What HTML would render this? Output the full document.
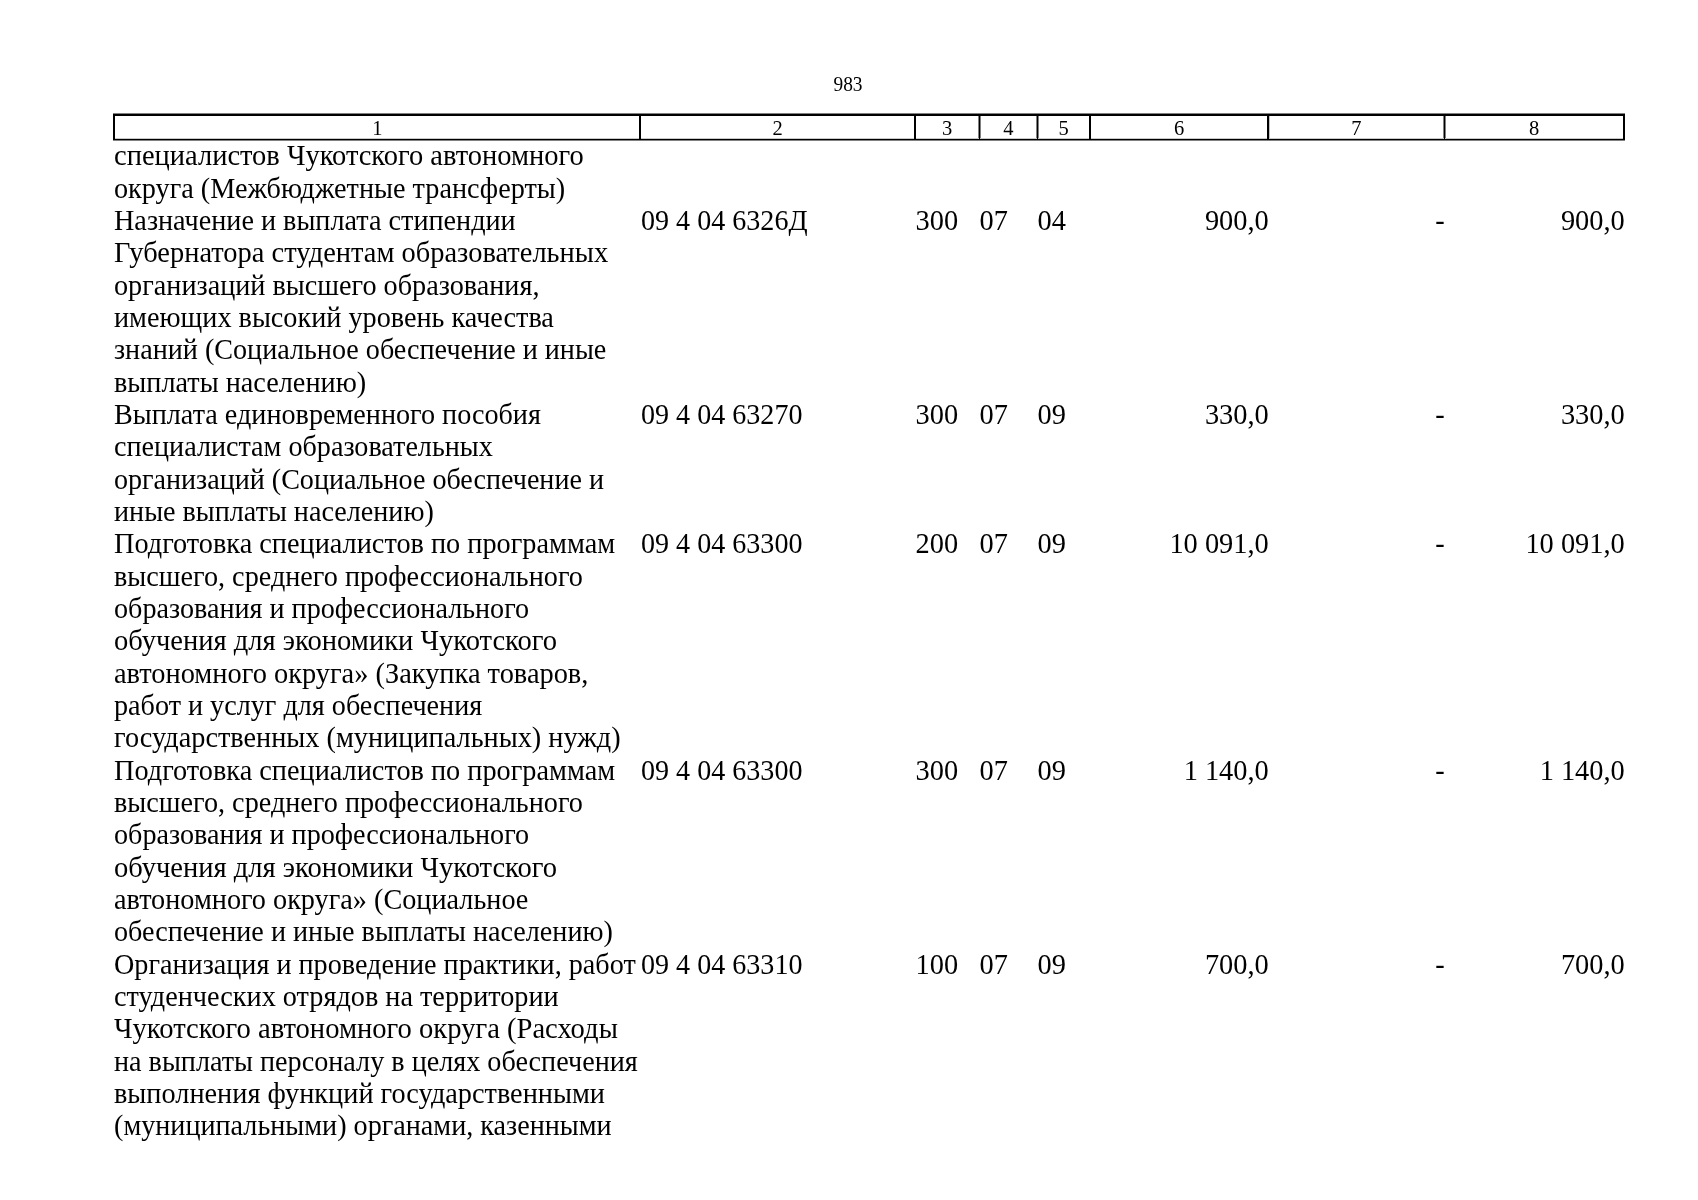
<!DOCTYPE html>
<html><head><meta charset="utf-8"><style>
html,body{margin:0;padding:0;background:#fff;}
body{width:1698px;height:1200px;position:relative;overflow:hidden;filter:grayscale(1);font-family:"Liberation Serif",serif;color:#000;}
.t{position:absolute;white-space:nowrap;line-height:0;font-size:28.4px;}
.r{text-align:right;}
.h{position:absolute;white-space:nowrap;line-height:0;font-size:20.5px;text-align:center;}
.b{position:absolute;background:#000;}
</style></head><body>

<div class="h" style="left:798.4px;width:100px;top:84.28px;transform:scaleX(0.945);transform-origin:50% 0">983</div>
<div class="b" style="left:113px;top:113px;width:1512px;height:1px;background:#808080"></div>
<div class="b" style="left:113px;top:114px;width:1512px;height:2px;background:#000"></div>
<div class="b" style="left:113px;top:138px;width:1512px;height:1px;background:#c8c8c8"></div>
<div class="b" style="left:113px;top:139px;width:1512px;height:1px;background:#000"></div>
<div class="b" style="left:113px;top:140px;width:1512px;height:1px;background:#808080"></div>
<div class="b" style="left:978px;top:116px;width:1px;height:22px;background:#808080"></div>
<div class="b" style="left:980px;top:116px;width:1px;height:22px;background:#808080"></div>
<div class="b" style="left:1036px;top:116px;width:1px;height:22px;background:#808080"></div>
<div class="b" style="left:1038px;top:116px;width:1px;height:22px;background:#808080"></div>
<div class="b" style="left:1443px;top:116px;width:1px;height:22px;background:#808080"></div>
<div class="b" style="left:1445px;top:116px;width:1px;height:22px;background:#808080"></div>
<div class="b" style="left:1269px;top:116px;width:1px;height:22px;background:#c0c0c0"></div>
<div class="b" style="left:113px;top:114px;width:2px;height:26px;background:#000"></div>
<div class="b" style="left:639px;top:114px;width:2px;height:26px;background:#000"></div>
<div class="b" style="left:914px;top:114px;width:2px;height:26px;background:#000"></div>
<div class="b" style="left:979px;top:114px;width:1px;height:26px;background:#000"></div>
<div class="b" style="left:1037px;top:114px;width:1px;height:26px;background:#000"></div>
<div class="b" style="left:1089px;top:114px;width:2px;height:26px;background:#000"></div>
<div class="b" style="left:1267px;top:114px;width:2px;height:26px;background:#000"></div>
<div class="b" style="left:1444px;top:114px;width:1px;height:26px;background:#000"></div>
<div class="b" style="left:1623px;top:114px;width:2px;height:26px;background:#000"></div>
<div class="h" style="left:114.2px;width:526.2px;top:127.83px">1</div>
<div class="h" style="left:640.4px;width:274.6px;top:127.83px">2</div>
<div class="h" style="left:915.0px;width:64.4px;top:127.83px">3</div>
<div class="h" style="left:979.4px;width:58.0px;top:127.83px">4</div>
<div class="h" style="left:1037.4px;width:52.6px;top:127.83px">5</div>
<div class="h" style="left:1090.0px;width:178.2px;top:127.83px">6</div>
<div class="h" style="left:1268.2px;width:176.2px;top:127.83px">7</div>
<div class="h" style="left:1444.4px;width:179.6px;top:127.83px">8</div>
<div class="t" style="left:114px;top:156.22px;transform:scaleX(1.0034);transform-origin:0.5px 0">специалистов Чукотского автономного</div>
<div class="t" style="left:114px;top:188.56px;transform:scaleX(0.9940);transform-origin:0.5px 0">округа (Межбюджетные трансферты)</div>
<div class="t" style="left:114px;top:220.90px;transform:scaleX(0.9933);transform-origin:0.5px 0">Назначение и выплата стипендии</div>
<div class="t" style="left:114px;top:253.24px;transform:scaleX(1.0022);transform-origin:0.5px 0">Губернатора студентам образовательных</div>
<div class="t" style="left:114px;top:285.58px;transform:scaleX(0.9937);transform-origin:0.5px 0">организаций высшего образования,</div>
<div class="t" style="left:114px;top:317.92px;transform:scaleX(0.9939);transform-origin:0.5px 0">имеющих высокий уровень качества</div>
<div class="t" style="left:114px;top:350.26px;transform:scaleX(0.9913);transform-origin:0.5px 0">знаний (Социальное обеспечение и иные</div>
<div class="t" style="left:114px;top:382.60px;transform:scaleX(0.9948);transform-origin:0.5px 0">выплаты населению)</div>
<div class="t" style="left:114px;top:414.94px;transform:scaleX(0.9925);transform-origin:0.5px 0">Выплата единовременного пособия</div>
<div class="t" style="left:114px;top:447.28px;transform:scaleX(0.9911);transform-origin:0.5px 0">специалистам образовательных</div>
<div class="t" style="left:114px;top:479.62px;transform:scaleX(0.9891);transform-origin:0.5px 0">организаций (Социальное обеспечение и</div>
<div class="t" style="left:114px;top:511.95px;transform:scaleX(0.9913);transform-origin:0.5px 0">иные выплаты населению)</div>
<div class="t" style="left:114px;top:544.30px;transform:scaleX(0.9964);transform-origin:0.5px 0">Подготовка специалистов по программам</div>
<div class="t" style="left:114px;top:576.63px;transform:scaleX(0.9936);transform-origin:0.5px 0">высшего, среднего профессионального</div>
<div class="t" style="left:114px;top:608.98px;transform:scaleX(0.9914);transform-origin:0.5px 0">образования и профессионального</div>
<div class="t" style="left:114px;top:641.32px;transform:scaleX(1.0055);transform-origin:0.5px 0">обучения для экономики Чукотского</div>
<div class="t" style="left:114px;top:673.65px;transform:scaleX(1.0000);transform-origin:0.5px 0">автономного округа» (Закупка товаров,</div>
<div class="t" style="left:114px;top:706.00px;transform:scaleX(0.9922);transform-origin:0.5px 0">работ и услуг для обеспечения</div>
<div class="t" style="left:114px;top:738.34px;transform:scaleX(0.9964);transform-origin:0.5px 0">государственных (муниципальных) нужд)</div>
<div class="t" style="left:114px;top:770.67px;transform:scaleX(0.9964);transform-origin:0.5px 0">Подготовка специалистов по программам</div>
<div class="t" style="left:114px;top:803.02px;transform:scaleX(0.9936);transform-origin:0.5px 0">высшего, среднего профессионального</div>
<div class="t" style="left:114px;top:835.36px;transform:scaleX(0.9914);transform-origin:0.5px 0">образования и профессионального</div>
<div class="t" style="left:114px;top:867.69px;transform:scaleX(1.0055);transform-origin:0.5px 0">обучения для экономики Чукотского</div>
<div class="t" style="left:114px;top:900.04px;transform:scaleX(0.9942);transform-origin:0.5px 0">автономного округа» (Социальное</div>
<div class="t" style="left:114px;top:932.38px;transform:scaleX(0.9916);transform-origin:0.5px 0">обеспечение и иные выплаты населению)</div>
<div class="t" style="left:114px;top:964.72px;transform:scaleX(0.9922);transform-origin:0.5px 0">Организация и проведение практики, работ</div>
<div class="t" style="left:114px;top:997.06px;transform:scaleX(0.9948);transform-origin:0.5px 0">студенческих отрядов на территории</div>
<div class="t" style="left:114px;top:1029.39px;transform:scaleX(1.0070);transform-origin:0.5px 0">Чукотского автономного округа (Расходы</div>
<div class="t" style="left:114px;top:1061.74px;transform:scaleX(0.9922);transform-origin:0.5px 0">на выплаты персоналу в целях обеспечения</div>
<div class="t" style="left:114px;top:1094.08px;transform:scaleX(0.9965);transform-origin:0.5px 0">выполнения функций государственными</div>
<div class="t" style="left:114px;top:1126.41px;transform:scaleX(0.9918);transform-origin:0.5px 0">(муниципальными) органами, казенными</div>
<div class="t" style="left:641px;top:220.90px;transform:scaleX(0.989);transform-origin:1px 0">09 4 04 6326Д</div>
<div class="t" style="left:915.5px;top:220.90px">300</div>
<div class="t" style="left:979.5px;top:220.90px">07</div>
<div class="t" style="left:1037.5px;top:220.90px">04</div>
<div class="t r" style="left:1090px;width:178.8px;top:220.90px">900,0</div>
<div class="t r" style="left:1268px;width:176.7px;top:220.90px">-</div>
<div class="t r" style="left:1444px;width:180.8px;top:220.90px">900,0</div>
<div class="t" style="left:641px;top:414.94px;transform:scaleX(0.989);transform-origin:1px 0">09 4 04 63270</div>
<div class="t" style="left:915.5px;top:414.94px">300</div>
<div class="t" style="left:979.5px;top:414.94px">07</div>
<div class="t" style="left:1037.5px;top:414.94px">09</div>
<div class="t r" style="left:1090px;width:178.8px;top:414.94px">330,0</div>
<div class="t r" style="left:1268px;width:176.7px;top:414.94px">-</div>
<div class="t r" style="left:1444px;width:180.8px;top:414.94px">330,0</div>
<div class="t" style="left:641px;top:544.30px;transform:scaleX(0.989);transform-origin:1px 0">09 4 04 63300</div>
<div class="t" style="left:915.5px;top:544.30px">200</div>
<div class="t" style="left:979.5px;top:544.30px">07</div>
<div class="t" style="left:1037.5px;top:544.30px">09</div>
<div class="t r" style="left:1090px;width:178.8px;top:544.30px">10 091,0</div>
<div class="t r" style="left:1268px;width:176.7px;top:544.30px">-</div>
<div class="t r" style="left:1444px;width:180.8px;top:544.30px">10 091,0</div>
<div class="t" style="left:641px;top:770.67px;transform:scaleX(0.989);transform-origin:1px 0">09 4 04 63300</div>
<div class="t" style="left:915.5px;top:770.67px">300</div>
<div class="t" style="left:979.5px;top:770.67px">07</div>
<div class="t" style="left:1037.5px;top:770.67px">09</div>
<div class="t r" style="left:1090px;width:178.8px;top:770.67px">1 140,0</div>
<div class="t r" style="left:1268px;width:176.7px;top:770.67px">-</div>
<div class="t r" style="left:1444px;width:180.8px;top:770.67px">1 140,0</div>
<div class="t" style="left:641px;top:964.72px;transform:scaleX(0.989);transform-origin:1px 0">09 4 04 63310</div>
<div class="t" style="left:915.5px;top:964.72px">100</div>
<div class="t" style="left:979.5px;top:964.72px">07</div>
<div class="t" style="left:1037.5px;top:964.72px">09</div>
<div class="t r" style="left:1090px;width:178.8px;top:964.72px">700,0</div>
<div class="t r" style="left:1268px;width:176.7px;top:964.72px">-</div>
<div class="t r" style="left:1444px;width:180.8px;top:964.72px">700,0</div>
</body></html>
